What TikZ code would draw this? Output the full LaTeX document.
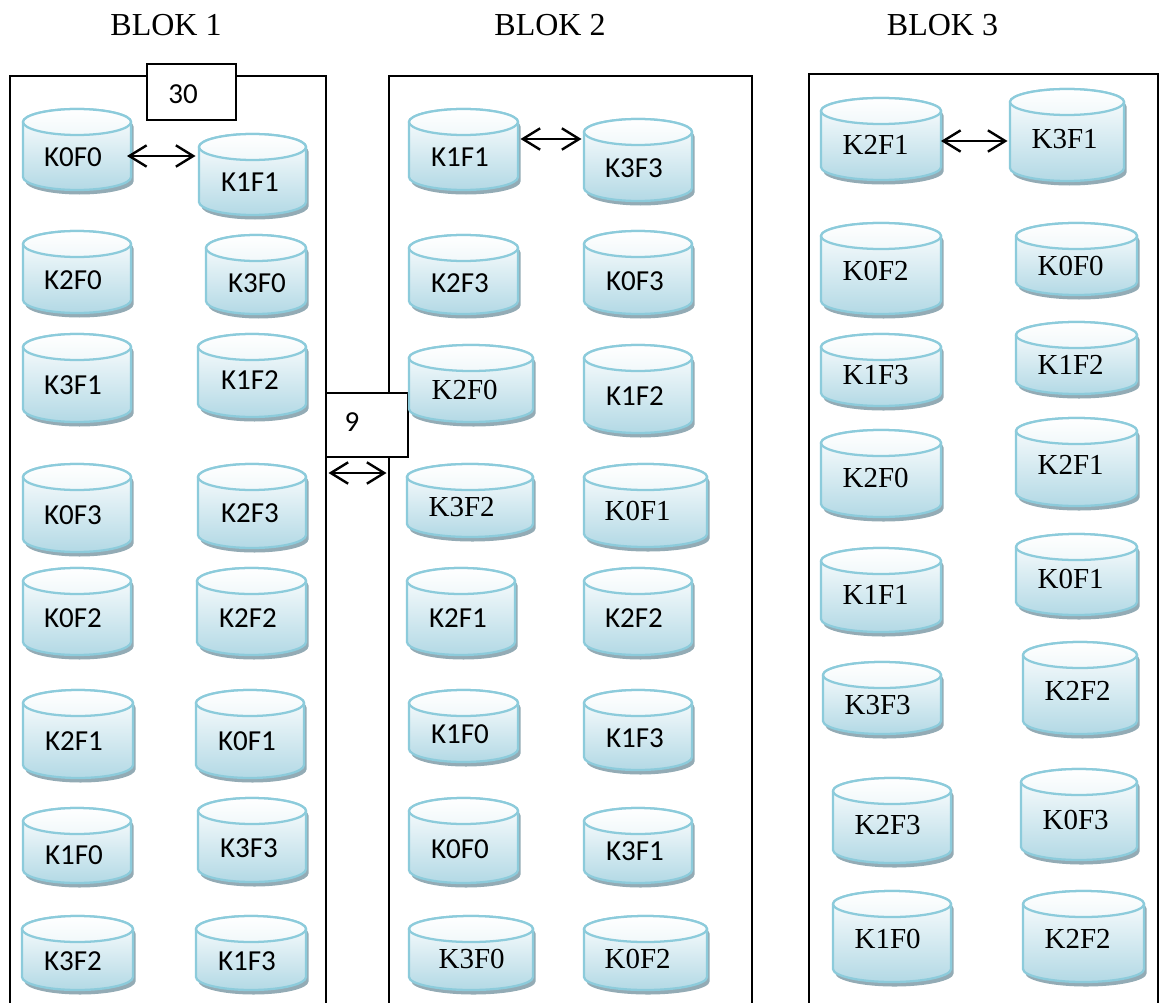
\documentclass[tikz,border=0pt]{standalone}
\usepackage{fontspec}
\setmainfont{Liberation Serif}
\newfontfamily\calib{Carlito}
\usetikzlibrary{arrows.meta}
\definecolor{cylline}{HTML}{8CCBDB}
\definecolor{cylshadow}{HTML}{93ABB5}
\definecolor{cylbot}{HTML}{B3D9E5}
\definecolor{cyltop}{HTML}{F1F8FA}
\tikzset{
  x=0.75pt,y=-0.75pt,
  framebox/.style={draw=black,line width=1.5pt,fill=none,inner sep=0pt,outer sep=0pt,anchor=north west},
  tagbox/.style={draw=black,line width=1.5pt,fill=white,inner sep=0pt,outer sep=0pt,anchor=north west},
  tagtext/.style={font=\calib\fontsize{21.75}{24}\selectfont,inner sep=0pt},
  sanslab/.style={font=\calib\fontsize{21.75}{24}\selectfont,inner sep=0pt,xshift=0.75pt},
  seriflab/.style={font=\fontsize{21.75}{24}\selectfont,inner sep=0pt,xshift=0.5pt},
  title/.style={font=\fontsize{24}{28}\selectfont,inner sep=0pt},
  cylnode/.style={inner sep=0pt,outer sep=0pt,draw=none},
  cylshade/.style={fill=cylshadow,draw=none},
  cylbody/.style={draw=cylline,line width=1.7pt,top color=white,bottom color=cylbot,shading angle=0},
  cyllid/.style={draw=cylline,line width=1.7pt,top color=white,bottom color=cyltop},
  dbl/.style={line width=1.8pt,{Straight Barb[length=13pt,width=16pt]}-{Straight Barb[length=13pt,width=16pt]}},
}
% \cyl{name}{x1}{y1}{x2}{y2}{tx}{ty}{style}{text}
\newcommand{\cylbodypath}[4]{% x1 y1 x2 y2
  (#1,#2+13) -- (#1,#4-13)
  .. controls (#1,#4-6) and ({#1+0.224*(#3-#1)},#4) .. ({(#1+#3)/2},#4)
  .. controls ({#3-0.224*(#3-#1)},#4) and (#3,#4-6) .. (#3,#4-13)
  -- (#3,#2+13)
  .. controls (#3,#2+6) and ({#3-0.224*(#3-#1)},#2) .. ({(#1+#3)/2},#2)
  .. controls ({#1+0.224*(#3-#1)},#2) and (#1,#2+6) .. (#1,#2+13) -- cycle}
\newcommand{\cyl}[9]{%
  \path[cylshade,shift={(2.5,4.5)}] \cylbodypath{#2}{#3}{#4}{#5};
  \path[cylbody] \cylbodypath{#2}{#3}{#4}{#5};
  \path[cyllid] (#2,#3+13)
    .. controls (#2,#3+6) and ({#2+0.224*(#4-#2)},#3) .. ({(#2+#4)/2},#3)
    .. controls ({#4-0.224*(#4-#2)},#3) and (#4,#3+6) .. (#4,#3+13)
    .. controls (#4,#3+20) and ({#4-0.224*(#4-#2)},#3+26) .. ({(#2+#4)/2},#3+26)
    .. controls ({#2+0.224*(#4-#2)},#3+26) and (#2,#3+20) .. (#2,#3+13) -- cycle;
  \node[cylnode,minimum width={0.75pt*(#4-#2)},minimum height={0.75pt*(#5-#3)}] (#1) at ({(#2+#4)/2},{(#3+#5)/2}) {};
  \node[#8] (#1-l) at (#6,#7) {#9};
}
\begin{document}
\begin{tikzpicture}
\useasboundingbox (0,0) rectangle (1162,1002);
\path[fill=white] (0,0) rectangle (1162,1002);
% titles
\node[title] (t1) at (166,25) {BLOK 1};
\node[title] (t2) at (550,25) {BLOK 2};
\node[title] (t3) at (942.5,25) {BLOK 3};
% frames, open at the page's lower edge
\node[framebox,minimum width=237pt,minimum height=730pt] (box1) at (10,76) {};
\node[framebox,minimum width=272.25pt,minimum height=730pt] (box2) at (389,76) {};
\node[framebox,minimum width=261.75pt,minimum height=730pt] (box3) at (809,74) {};
% tags
\node[tagbox,minimum width=66.75pt,minimum height=42pt] (tag30) at (147,64) {};
\node[tagtext] (tag30-l) at (183,94) {30};
\node[tagbox,minimum width=61.5pt,minimum height=48pt] (tag9) at (326,393) {};
\node[tagtext] (tag9-l) at (352,422) {9};
% BLOK 1
\cyl{aK0F0}{23}{109}{131}{190}{72}{157}{sanslab}{K0F0}
\cyl{aK1F1}{199}{134}{306}{215}{249}{182}{sanslab}{K1F1}
\cyl{aK2F0}{23}{231}{131}{313}{72}{280}{sanslab}{K2F0}
\cyl{aK3F0}{206}{235}{306}{314}{256}{283}{sanslab}{K3F0}
\cyl{aK3F1}{23}{334}{131}{422}{72}{385}{sanslab}{K3F1}
\cyl{aK1F2}{198}{334}{306}{417}{249}{380}{sanslab}{K1F2}
\cyl{aK0F3}{23}{464}{131}{552}{72}{515}{sanslab}{K0F3}
\cyl{aK2F3}{198}{464}{306}{548}{249}{513}{sanslab}{K2F3}
\cyl{aK0F2}{23}{568}{131}{655}{72}{618}{sanslab}{K0F2}
\cyl{aK2F2}{197}{568}{306}{655}{247}{618}{sanslab}{K2F2}
\cyl{aK2F1}{23}{690}{133}{778}{73}{741}{sanslab}{K2F1}
\cyl{aK0F1}{196}{690}{304}{778}{246}{741}{sanslab}{K0F1}
\cyl{aK1F0}{23}{808}{131}{883}{73}{855}{sanslab}{K1F0}
\cyl{aK3F3}{198}{798}{306}{882}{248}{848}{sanslab}{K3F3}
\cyl{aK3F2}{22}{916}{133}{990}{72}{961}{sanslab}{K3F2}
\cyl{aK1F3}{196}{916}{306}{990}{246}{961}{sanslab}{K1F3}
% BLOK 2
\cyl{bK1F1}{409}{109}{518}{190}{459}{157}{sanslab}{K1F1}
\cyl{bK3F3}{584}{119}{692}{201}{633}{168}{sanslab}{K3F3}
\cyl{bK2F3}{409}{235}{518}{314}{459}{283}{sanslab}{K2F3}
\cyl{bK0F3}{584}{231}{692}{314}{634}{281}{sanslab}{K0F3}
\cyl{bK2F0}{409}{345}{533}{422}{464}{390}{seriflab}{K2F0}
\cyl{bK1F2}{584}{345}{692}{433}{634}{396}{sanslab}{K1F2}
\cyl{bK3F2}{407}{464}{533}{537}{461}{507}{seriflab}{K3F2}
\cyl{bK0F1}{584}{464}{707}{547}{637}{511}{seriflab}{K0F1}
\cyl{bK2F1}{407}{568}{515}{655}{457}{618}{sanslab}{K2F1}
\cyl{bK2F2}{584}{568}{692}{655}{633}{618}{sanslab}{K2F2}
\cyl{bK1F0}{409}{690}{518}{762}{459}{734}{sanslab}{K1F0}
\cyl{bK1F3}{584}{690}{692}{770}{634}{738}{sanslab}{K1F3}
\cyl{bK0F0}{409}{798}{518}{883}{459}{849}{sanslab}{K0F0}
\cyl{bK3F1}{584}{808}{692}{883}{634}{851}{sanslab}{K3F1}
\cyl{bK3F0}{409}{916}{533}{990}{471}{959}{seriflab}{K3F0}
\cyl{bK0F2}{584}{916}{707}{990}{637}{959}{seriflab}{K0F2}
% BLOK 3
\cyl{cK2F1}{821}{98}{941}{180}{875}{145}{seriflab}{K2F1}
\cyl{cK3F1}{1010}{89}{1124}{181}{1064}{139}{seriflab}{K3F1}
\cyl{cK0F2}{821}{223}{941}{314}{875}{271}{seriflab}{K0F2}
\cyl{cK0F0}{1016}{223}{1137}{295}{1070}{266}{seriflab}{K0F0}
\cyl{cK1F3}{821}{334}{941}{406}{875}{375}{seriflab}{K1F3}
\cyl{cK1F2}{1016}{322}{1137}{394}{1070}{365}{seriflab}{K1F2}
\cyl{cK2F0}{821}{430}{941}{517}{875}{478}{seriflab}{K2F0}
\cyl{cK2F1b}{1016}{418}{1137}{506}{1070}{465}{seriflab}{K2F1}
\cyl{cK1F1}{821}{548}{941}{632}{875}{595}{seriflab}{K1F1}
\cyl{cK0F1}{1016}{534}{1137}{615}{1070}{579}{seriflab}{K0F1}
\cyl{cK3F3}{823}{662}{941}{734}{877}{705}{seriflab}{K3F3}
\cyl{cK2F2}{1023}{642}{1137}{734}{1077}{691}{seriflab}{K2F2}
\cyl{cK2F3}{833}{778}{951}{863}{887}{825}{seriflab}{K2F3}
\cyl{cK0F3}{1021}{769}{1137}{860}{1075}{820}{seriflab}{K0F3}
\cyl{cK1F0}{833}{891}{951}{982}{887}{939}{seriflab}{K1F0}
\cyl{cK2F2b}{1023}{891}{1144}{982}{1077}{939}{seriflab}{K2F2}
% connectors
\draw[dbl] ([shift={(-4,6.5)}]aK0F0.east) -- ([shift={(-3.5,-18.5)}]aK1F1.west);
\draw[dbl] ([shift={(2.5,-10.5)}]bK1F1.east) -- ([shift={(-2.5,-21)}]bK3F3.west);
\draw[dbl] ([shift={(0,2)}]cK2F1.east) -- ([shift={(-2.5,6)}]cK3F1.west);
\draw[dbl] ([shift={(2.5,0)}]box1.east |- tag9.south) ++(0,16) coordinate (ga) -- ([shift={(-2.5,0)}]box2.west |- ga);
\end{tikzpicture}
\end{document}
